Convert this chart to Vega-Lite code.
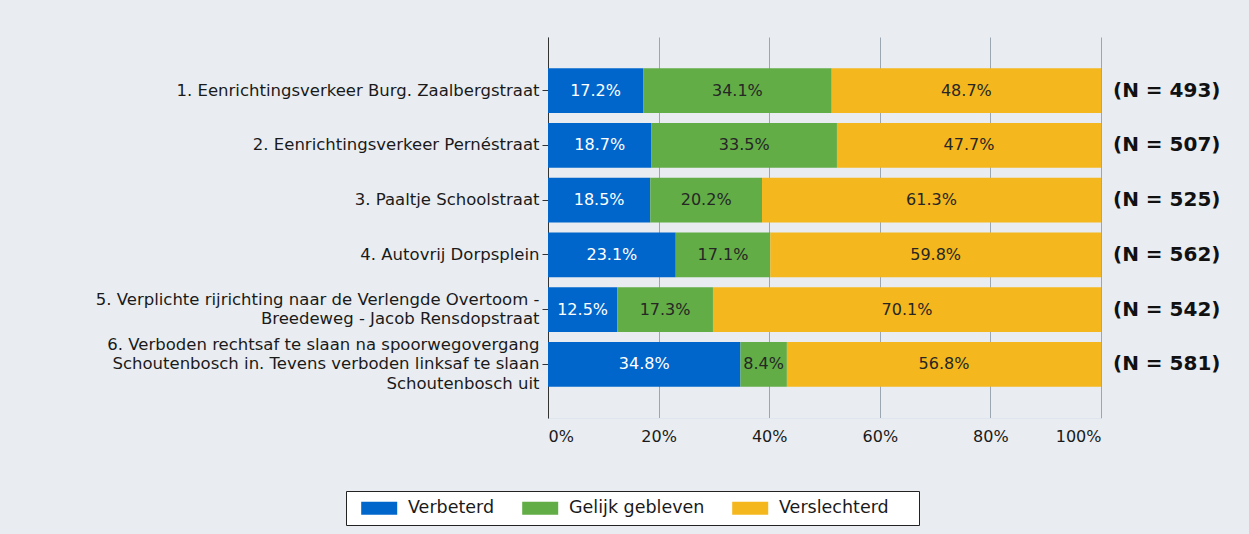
{
  "$schema": "https://vega.github.io/schema/vega-lite/v6.json",
  "width": 553,
  "height": 381,
  "autosize": "none",
  "padding": {"left": 548, "top": 37, "right": 148, "bottom": 116},
  "background": "#e9edf1",
  "config": {"view": {"stroke": null}, "font": "DejaVu Sans"},
  "datasets": {
    "bars": [
      {"label": "1. Eenrichtingsverkeer Burg. Zaalbergstraat", "cat": "Verbeterd", "ord": 1, "value": 0.172},
      {"label": "1. Eenrichtingsverkeer Burg. Zaalbergstraat", "cat": "Gelijk gebleven", "ord": 2, "value": 0.341},
      {"label": "1. Eenrichtingsverkeer Burg. Zaalbergstraat", "cat": "Verslechterd", "ord": 3, "value": 0.487},
      {"label": "2. Eenrichtingsverkeer Pernéstraat", "cat": "Verbeterd", "ord": 1, "value": 0.187},
      {"label": "2. Eenrichtingsverkeer Pernéstraat", "cat": "Gelijk gebleven", "ord": 2, "value": 0.335},
      {"label": "2. Eenrichtingsverkeer Pernéstraat", "cat": "Verslechterd", "ord": 3, "value": 0.477},
      {"label": "3. Paaltje Schoolstraat", "cat": "Verbeterd", "ord": 1, "value": 0.185},
      {"label": "3. Paaltje Schoolstraat", "cat": "Gelijk gebleven", "ord": 2, "value": 0.202},
      {"label": "3. Paaltje Schoolstraat", "cat": "Verslechterd", "ord": 3, "value": 0.613},
      {"label": "4. Autovrij Dorpsplein", "cat": "Verbeterd", "ord": 1, "value": 0.231},
      {"label": "4. Autovrij Dorpsplein", "cat": "Gelijk gebleven", "ord": 2, "value": 0.171},
      {"label": "4. Autovrij Dorpsplein", "cat": "Verslechterd", "ord": 3, "value": 0.598},
      {"label": "5. Verplichte rijrichting naar de Verlengde Overtoom -|Breedeweg - Jacob Rensdopstraat", "cat": "Verbeterd", "ord": 1, "value": 0.125},
      {"label": "5. Verplichte rijrichting naar de Verlengde Overtoom -|Breedeweg - Jacob Rensdopstraat", "cat": "Gelijk gebleven", "ord": 2, "value": 0.173},
      {"label": "5. Verplichte rijrichting naar de Verlengde Overtoom -|Breedeweg - Jacob Rensdopstraat", "cat": "Verslechterd", "ord": 3, "value": 0.701},
      {"label": "6. Verboden rechtsaf te slaan na spoorwegovergang|Schoutenbosch in. Tevens verboden linksaf te slaan|Schoutenbosch uit", "cat": "Verbeterd", "ord": 1, "value": 0.348},
      {"label": "6. Verboden rechtsaf te slaan na spoorwegovergang|Schoutenbosch in. Tevens verboden linksaf te slaan|Schoutenbosch uit", "cat": "Gelijk gebleven", "ord": 2, "value": 0.084},
      {"label": "6. Verboden rechtsaf te slaan na spoorwegovergang|Schoutenbosch in. Tevens verboden linksaf te slaan|Schoutenbosch uit", "cat": "Verslechterd", "ord": 3, "value": 0.568}
    ],
    "ns": [
      {"label": "1. Eenrichtingsverkeer Burg. Zaalbergstraat", "n": "(N = 493)"},
      {"label": "2. Eenrichtingsverkeer Pernéstraat", "n": "(N = 507)"},
      {"label": "3. Paaltje Schoolstraat", "n": "(N = 525)"},
      {"label": "4. Autovrij Dorpsplein", "n": "(N = 562)"},
      {"label": "5. Verplichte rijrichting naar de Verlengde Overtoom -|Breedeweg - Jacob Rensdopstraat", "n": "(N = 542)"},
      {"label": "6. Verboden rechtsaf te slaan na spoorwegovergang|Schoutenbosch in. Tevens verboden linksaf te slaan|Schoutenbosch uit", "n": "(N = 581)"}
    ]
  },
  "layer": [
    {
      "data": {"name": "bars"},
      "mark": {"type": "bar"},
      "encoding": {
        "y": {
          "field": "label", "type": "nominal", "sort": null,
          "scale": {"paddingInner": 0.18, "paddingOuter": 0.57},
          "axis": {
            "title": null, "labelFontSize": 16.5, "labelColor": "#1a1a1a", "labelLimit": 600,
            "domainColor": "#333333", "tickColor": "#333333", "tickSize": 6, "labelPadding": 3,
            "labelExpr": "split(datum.label, '|')", "labelLineHeight": 19.5, "grid": false,
            "labelOffset": {
              "condition": [
                {"test": "indexof(datum.value, '6.') === 0", "value": -19.5},
                {"test": "indexof(datum.value, '5.') === 0", "value": -9.75}
              ],
              "value": 0
            }
          }
        },
        "x": {
          "field": "value", "type": "quantitative", "stack": "normalize",
          "scale": {"domain": [0, 1]},
          "axis": {
            "title": null, "format": ".0%", "values": [0, 0.2, 0.4, 0.6, 0.8, 1],
            "grid": true, "gridColor": "#9ba6b0", "ticks": false, "domainColor": "#dfe5ee",
            "labelFontSize": 16, "labelPadding": 10, "labelColor": "#1a1a1a"
          }
        },
        "color": {
          "field": "cat", "type": "nominal",
          "scale": {"domain": ["Verbeterd", "Gelijk gebleven", "Verslechterd"], "range": ["#0066cc", "#62ad46", "#f4b71d"]},
          "legend": {
            "orient": "none", "legendX": -202, "legendY": 454, "direction": "horizontal", "title": null,
            "strokeColor": "#222222", "fillColor": "#ffffff", "padding": 8,
            "symbolType": "M-0.2,-0.72H3.8V0.72H-0.2Z", "symbolSize": 324, "symbolStrokeWidth": 0,
            "labelFontSize": 17.5, "labelColor": "#1a1a1a", "columnPadding": 20, "labelOffset": 36,
            "labelExpr": "datum.value === 'Verslechterd' ? 'Verslechterd\u00a0\u00a0\u00a0\u00a0\u200b' : datum.label"
          }
        },
        "order": {"field": "ord"}
      }
    },
    {
      "data": {"name": "bars"},
      "mark": {"type": "text", "fontSize": 16},
      "encoding": {
        "y": {"field": "label", "type": "nominal", "sort": null},
        "x": {"field": "value", "type": "quantitative", "stack": "normalize", "bandPosition": 0.5},
        "detail": {"field": "cat"},
        "order": {"field": "ord"},
        "text": {"field": "value", "format": ".1%"},
        "color": {"condition": {"test": "datum.cat === 'Verbeterd'", "value": "#ffffff"}, "value": "#262626"}
      }
    },
    {
      "data": {"name": "ns"},
      "mark": {"type": "text", "align": "left", "dx": 12, "fontSize": 20, "fontWeight": "bold", "color": "#111111"},
      "encoding": {
        "y": {"field": "label", "type": "nominal", "sort": null},
        "x": {"datum": 1},
        "text": {"field": "n"}
      }
    }
  ]
}
